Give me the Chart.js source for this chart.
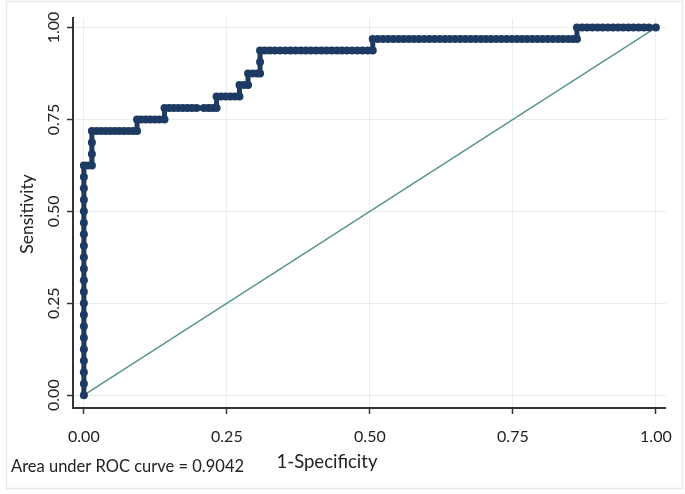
<!DOCTYPE html>
<html><head><meta charset="utf-8">
<script src="https://cdn.jsdelivr.net/npm/chart.js@4.4.1/dist/chart.umd.min.js"></script>
<style>html,body{margin:0;padding:0;background:#fff}#wrap{width:685px;height:494px}</style>
</head><body><div id="wrap"><canvas id="c" width="685" height="494"></canvas></div>
<script>
// ---- data ----
const xTicks = [0, 0.25, 0.5, 0.75, 1];
const yTicks = [0, 0.25, 0.5, 0.75, 1];
const xTitle = '1-Specificity';
const yTitle = 'Sensitivity';
const noteText = 'Area under ROC curve = 0.9042';
// ROC curve points [1-specificity, sensitivity]
const rocCurve = [
 [0,0],[0,0.03125],[0,0.0625],[0,0.09375],[0,0.125],[0,0.15625],[0,0.1875],[0,0.21875],[0,0.25],[0,0.28125],
 [0,0.3125],[0,0.34375],[0,0.375],[0,0.40625],[0,0.4375],[0,0.46875],[0,0.5],[0,0.53125],[0,0.5625],[0,0.59375],[0,0.625],
 [0.007,0.625],[0.014,0.625],[0.014,0.65625],[0.014,0.6875],[0.014,0.71875],
 [0.022,0.71875],[0.030,0.71875],[0.038,0.71875],[0.046,0.71875],[0.054,0.71875],[0.062,0.71875],[0.070,0.71875],[0.078,0.71875],[0.086,0.71875],[0.093,0.71875],
 [0.093,0.75],[0.100,0.75],[0.108,0.75],[0.116,0.75],[0.124,0.75],[0.132,0.75],[0.141,0.75],
 [0.141,0.78125],[0.149,0.78125],[0.157,0.78125],[0.165,0.78125],[0.173,0.78125],[0.181,0.78125],[0.189,0.78125],[0.197,0.78125],[0.210,0.78125],[0.218,0.78125],[0.225,0.78125],[0.232,0.78125],
 [0.232,0.8125],[0.240,0.8125],[0.248,0.8125],[0.256,0.8125],[0.264,0.8125],[0.272,0.8125],
 [0.272,0.84375],[0.280,0.84375],[0.287,0.84375],
 [0.287,0.875],[0.295,0.875],[0.303,0.875],[0.308,0.875],
 [0.308,0.90625],[0.308,0.9375],
 [0.316,0.9375],[0.325,0.9375],[0.334,0.9375],[0.343,0.9375],[0.352,0.9375],[0.361,0.9375],[0.370,0.9375],[0.379,0.9375],[0.388,0.9375],[0.397,0.9375],
 [0.406,0.9375],[0.415,0.9375],[0.424,0.9375],[0.433,0.9375],[0.442,0.9375],[0.451,0.9375],[0.460,0.9375],[0.469,0.9375],[0.478,0.9375],[0.487,0.9375],[0.496,0.9375],[0.505,0.9375],
 [0.505,0.96875],[0.514,0.96875],[0.523,0.96875],[0.532,0.96875],[0.541,0.96875],[0.550,0.96875],[0.559,0.96875],[0.568,0.96875],[0.577,0.96875],[0.586,0.96875],
 [0.595,0.96875],[0.604,0.96875],[0.613,0.96875],[0.622,0.96875],[0.631,0.96875],[0.640,0.96875],[0.649,0.96875],[0.658,0.96875],[0.667,0.96875],[0.676,0.96875],
 [0.685,0.96875],[0.694,0.96875],[0.703,0.96875],[0.712,0.96875],[0.721,0.96875],[0.730,0.96875],[0.739,0.96875],[0.748,0.96875],[0.757,0.96875],[0.766,0.96875],
 [0.775,0.96875],[0.784,0.96875],[0.793,0.96875],[0.802,0.96875],[0.811,0.96875],[0.820,0.96875],[0.829,0.96875],[0.838,0.96875],[0.847,0.96875],[0.855,0.96875],[0.862,0.96875],
 [0.862,1],[0.871,1],[0.880,1],[0.889,1],[0.898,1],[0.907,1],[0.916,1],[0.925,1],[0.934,1],[0.943,1],[0.952,1],[0.961,1],[0.970,1],[0.979,1],[0.988,1],[1,1]
];
const diagonal = [[0,0],[1,1]];

// ---- styling ----
const FONT = 'Lato, "Open Sans", sans-serif';
const TEXT = '#222222';
const NAVY = '#1d3b62';
const frameAndText = {
  id: 'frameAndText',
  beforeDraw(chart) {
    const ctx = chart.ctx;
    ctx.save();
    ctx.fillStyle = '#ffffff';
    ctx.fillRect(0, 0, chart.width, chart.height);
    ctx.strokeStyle = '#e4ebf0';
    ctx.lineWidth = 1.5;
    ctx.strokeRect(6.5, 1.5, 676, 487);
    ctx.restore();
  },
  afterDraw(chart) {
    const ctx = chart.ctx;
    const ys = chart.scales.y;
    ctx.save();
    ctx.fillStyle = TEXT;
    ctx.font = '16px ' + FONT;
    ctx.textAlign = 'center';
    ctx.textBaseline = 'middle';
    yTicks.forEach(v => {
      const py = ys.getPixelForValue(v);
      ctx.save();
      ctx.translate(54, py);
      ctx.rotate(-Math.PI / 2);
      ctx.fillText(v.toFixed(2), 0, 0);
      ctx.restore();
    });
    ctx.save();
    ctx.font = '17.5px ' + FONT;
    ctx.translate(27, 214);
    ctx.rotate(-Math.PI / 2);
    ctx.fillText(yTitle, 0, 0);
    ctx.restore();
    ctx.font = '18.5px ' + FONT;
    ctx.fillText(xTitle, 327, 462);
    ctx.font = '16.5px ' + FONT;
    ctx.textAlign = 'left';
    ctx.fillText(noteText, 11, 467);
    ctx.restore();
  }
};

new Chart(document.getElementById('c'), {
  type: 'scatter',
  data: {
    datasets: [
      {
        label: 'ROC',
        data: rocCurve.map(p => ({x: p[0], y: p[1]})),
        showLine: true,
        borderColor: NAVY,
        backgroundColor: NAVY,
        borderWidth: 5,
        pointRadius: 4,
        pointBorderWidth: 0,
        pointBackgroundColor: NAVY,
        pointHoverRadius: 4
      },
      {
        label: 'Reference',
        data: diagonal.map(p => ({x: p[0], y: p[1]})),
        showLine: true,
        borderColor: '#54977f',
        borderWidth: 1.4,
        pointRadius: 0
      }
    ]
  },
  options: {
    responsive: false,
    animation: false,
    devicePixelRatio: 1,
    layout: { padding: { top: 18, right: 18, left: 0, bottom: 0 } },
    plugins: { legend: { display: false }, tooltip: { enabled: false } },
    scales: {
      x: {
        type: 'linear',
        min: -0.019, max: 1.0175,
        afterBuildTicks: s => { s.ticks = xTicks.map(v => ({value: v})); },
        afterFit: s => { s.height = 86; },
        ticks: {
          callback: v => Number(v).toFixed(2),
          color: TEXT, font: { family: FONT, size: 16 }, padding: 13, maxRotation: 0
        },
        grid: { color: '#e5edf2', lineWidth: 1, tickColor: '#333333', tickLength: 6, tickWidth: 1.5 },
        border: { display: true, color: '#333333', width: 2 }
      },
      y: {
        type: 'linear',
        min: -0.035, max: 1.026,
        afterBuildTicks: s => { s.ticks = yTicks.map(v => ({value: v})); },
        afterFit: s => { s.width = 73; },
        ticks: { display: false },
        grid: { color: '#e5edf2', lineWidth: 1, tickColor: '#333333', tickLength: 6, tickWidth: 1.5 },
        border: { display: true, color: '#333333', width: 2 }
      }
    }
  },
  plugins: [frameAndText]
});
</script>
</body></html>
